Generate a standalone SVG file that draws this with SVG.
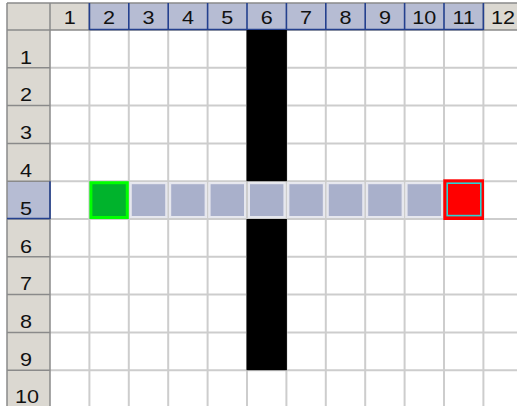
<svg xmlns="http://www.w3.org/2000/svg" width="517" height="406" viewBox="0 0 517 406">
<style>
.hdr{fill:#dbd8d1}
.hl{fill:#b6bcd3}
.grid{stroke:#cdcdcd;stroke-width:2;fill:none}
.hgrid{stroke:#8a8a8a;stroke-width:1.5;fill:none}
.blue{stroke:#24408e;stroke-width:1.6;fill:none}
.t{font-family:"Liberation Sans",Arial,sans-serif;font-size:18px;fill:#111;text-anchor:middle}
.wall{fill:#000}
.path{fill:#a9b0cb;stroke:#e6e7ee;stroke-width:2}
</style>
<rect width="517" height="406" fill="#ffffff"/>
<g id="headers">
<rect class="hdr" x="7" y="3" width="510" height="27"/>
<rect class="hdr" x="7" y="30" width="43" height="376"/>
<rect class="hl" x="89.4" y="3" width="394" height="27"/>
<rect class="hl" x="7" y="181.2" width="43" height="37.8"/>
</g>
<g id="cells" class="grid">
<path d="M89.4 30V406M128.8 30V406M168.2 30V406M207.6 30V406M247 30V406M286.4 30V406M325.8 30V406M365.2 30V406M404.6 30V406M444 30V406M483.4 30V406"/>
<path d="M50 67.8H517M50 105.6H517M50 143.4H517M50 181.2H517M50 219H517M50 256.8H517M50 294.6H517M50 332.4H517M50 370.2H517"/>
</g>
<g id="header-lines" class="hgrid">
<path d="M7 3V406M7 3H517M50 3V406M7 30H517"/>
<path d="M89.4 3V30M483.4 3V30"/>
<path d="M7 67.8H50M7 105.6H50M7 143.4H50M7 181.2H50M7 219H50M7 256.8H50M7 294.6H50M7 332.4H50M7 370.2H50"/>
</g>
<g id="header-highlight" class="blue">
<path d="M89.4 3V30M128.8 3V30M168.2 3V30M207.6 3V30M247 3V30M286.4 3V30M325.8 3V30M365.2 3V30M404.6 3V30M444 3V30M483.4 3V30"/>
<path d="M89.4 29.5H483.4"/>
<path d="M50 181.2V219M7 218.5H50"/>
</g>
<g id="col-labels">
<text class="t" transform="translate(69.7 24) scale(1.2 1)">1</text>
<text class="t" transform="translate(109.1 24) scale(1.2 1)">2</text>
<text class="t" transform="translate(148.5 24) scale(1.2 1)">3</text>
<text class="t" transform="translate(187.9 24) scale(1.2 1)">4</text>
<text class="t" transform="translate(227.3 24) scale(1.2 1)">5</text>
<text class="t" transform="translate(266.7 24) scale(1.2 1)">6</text>
<text class="t" transform="translate(306.1 24) scale(1.2 1)">7</text>
<text class="t" transform="translate(345.5 24) scale(1.2 1)">8</text>
<text class="t" transform="translate(384.9 24) scale(1.2 1)">9</text>
<text class="t" transform="translate(424.3 24) scale(1.2 1)">10</text>
<text class="t" transform="translate(463.7 24) scale(1.2 1)">11</text>
<text class="t" transform="translate(503.1 24) scale(1.2 1)">12</text>
</g>
<g id="row-labels">
<text class="t" transform="translate(26 63.5) scale(1.2 1)">1</text>
<text class="t" transform="translate(26 101.3) scale(1.2 1)">2</text>
<text class="t" transform="translate(26 139.1) scale(1.2 1)">3</text>
<text class="t" transform="translate(26 176.9) scale(1.2 1)">4</text>
<text class="t" transform="translate(26 214.7) scale(1.2 1)">5</text>
<text class="t" transform="translate(26 252.5) scale(1.2 1)">6</text>
<text class="t" transform="translate(26 290.3) scale(1.2 1)">7</text>
<text class="t" transform="translate(26 328.1) scale(1.2 1)">8</text>
<text class="t" transform="translate(26 365.9) scale(1.2 1)">9</text>
<text class="t" transform="translate(27 403.2) scale(1.2 1)">10</text>
</g>
<g id="wall">
<rect class="wall" x="246.5" y="30" width="40.4" height="151.2"/>
<rect class="wall" x="246.5" y="219" width="40.4" height="151.2"/>
</g>
<g id="path-cells">
<rect class="path" x="130.8" y="183.2" width="35.4" height="33.8"/>
<rect class="path" x="170.2" y="183.2" width="35.4" height="33.8"/>
<rect class="path" x="209.6" y="183.2" width="35.4" height="33.8"/>
<rect class="path" x="249" y="183.2" width="35.4" height="33.8"/>
<rect class="path" x="288.4" y="183.2" width="35.4" height="33.8"/>
<rect class="path" x="327.8" y="183.2" width="35.4" height="33.8"/>
<rect class="path" x="367.2" y="183.2" width="35.4" height="33.8"/>
<rect class="path" x="406.6" y="183.2" width="35.4" height="33.8"/>
</g>
<g id="start">
<rect x="90.9" y="182.7" width="36.4" height="34.8" fill="#00b32c" stroke="#00ff00" stroke-width="3"/>
</g>
<g id="goal">
<rect x="443.3" y="179.3" width="40.7" height="40.7" fill="#ff0000"/>
<rect x="447.2" y="183.2" width="33.6" height="32.4" fill="#ff0000" stroke="#2ad4d4" stroke-width="1.6"/>
</g>
</svg>
